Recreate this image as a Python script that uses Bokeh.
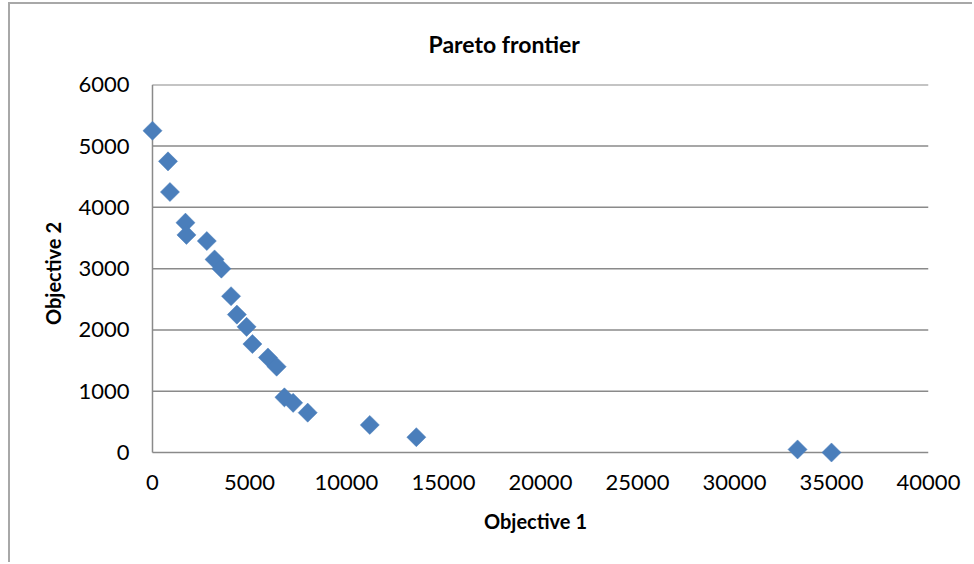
import numpy as np
from bokeh.plotting import figure
from bokeh.models import ColumnDataSource, FixedTicker, Range1d
from bokeh.embed import file_html
from bokeh.resources import INLINE

# data
objective1 = [0, 800, 900, 1700, 1750, 2800, 3200, 3550, 4050, 4350, 4850, 5150,
              5950, 6400, 6800, 7250, 8000, 11200, 13600, 33250, 35000]
objective2 = [5250, 4750, 4250, 3750, 3550, 3450, 3150, 3000, 2550, 2250, 2050, 1770,
              1550, 1400, 900, 810, 650, 450, 250, 50, 0]
x_ticks = [0, 5000, 10000, 15000, 20000, 25000, 30000, 35000, 40000]
y_ticks = [0, 1000, 2000, 3000, 4000, 5000, 6000]

title_text = "Pareto frontier"
x_label = "Objective 1"
y_label = "Objective 2"

FONT = "Lato"
GRID = "#8a8a8a"
BLUE = "#4a7ebb"

# small padding so markers on the axes are not clipped by the frame
x_pad = 515
y_pad = 163

p = figure(width=964, height=560, output_backend="svg", toolbar_location=None,
           x_range=Range1d(x_ticks[0] - x_pad, x_ticks[-1]),
           y_range=Range1d(y_ticks[0] - y_pad, y_ticks[-1] + 4),
           min_border_left=132, min_border_right=46, min_border_top=80, min_border_bottom=102,
           title=title_text)
p.styles = {"border-left": "2px solid #a8a8a8", "border-top": "2px solid #a8a8a8",
            "margin-left": "8px", "margin-top": "2px"}

p.title.align = "left"
p.title.offset = 286
p.title.vertical_align = "top"
p.title.standoff = 50
p.title.text_font = FONT
p.title.text_font_style = "bold"
p.title.text_font_size = "23px"
p.title.text_color = "#000000"

p.outline_line_color = None
p.background_fill_color = "white"
p.border_fill_color = "white"

p.xgrid.grid_line_color = None
p.ygrid.grid_line_color = None

p.xaxis.ticker = FixedTicker(ticks=x_ticks)
p.yaxis.ticker = FixedTicker(ticks=y_ticks)
for ax in (p.xaxis, p.yaxis):
    ax.axis_line_color = None
    ax.major_tick_line_color = None
    ax.minor_tick_line_color = None
    ax.major_tick_out = 0
    ax.major_tick_in = 0
    ax.major_label_text_font = FONT
    ax.major_label_text_font_size = "22px"
    ax.major_label_text_color = "#000000"
    ax.axis_label_text_font = FONT
    ax.axis_label_text_font_style = "bold"
    ax.axis_label_text_font_size = "20px"
    ax.axis_label_text_color = "#000000"

p.xaxis.axis_label = x_label
p.yaxis.axis_label = y_label
p.xaxis.major_label_standoff = 12
p.yaxis.major_label_standoff = 13
p.xaxis.axis_label_standoff = 16
p.yaxis.axis_label_standoff = 10

# horizontal gridlines (the one at 0 doubles as the x axis line)
grid_src = ColumnDataSource(dict(x0=[x_ticks[0]] * len(y_ticks), x1=[x_ticks[-1]] * len(y_ticks),
                                 y=y_ticks))
p.segment(x0="x0", x1="x1", y0="y", y1="y", source=grid_src, line_color=GRID, line_width=1.5)
# y axis line
p.segment(x0=[x_ticks[0]], x1=[x_ticks[0]], y0=[y_ticks[0]], y1=[y_ticks[-1]],
          line_color=GRID, line_width=1.5)

src = ColumnDataSource(dict(x=objective1, y=objective2))
p.scatter("x", "y", source=src, marker="square", size=13.5, angle=np.pi / 4,
          fill_color=BLUE, line_color=BLUE, line_width=0.5)

open("out.html", "w").write(file_html(p, INLINE))
